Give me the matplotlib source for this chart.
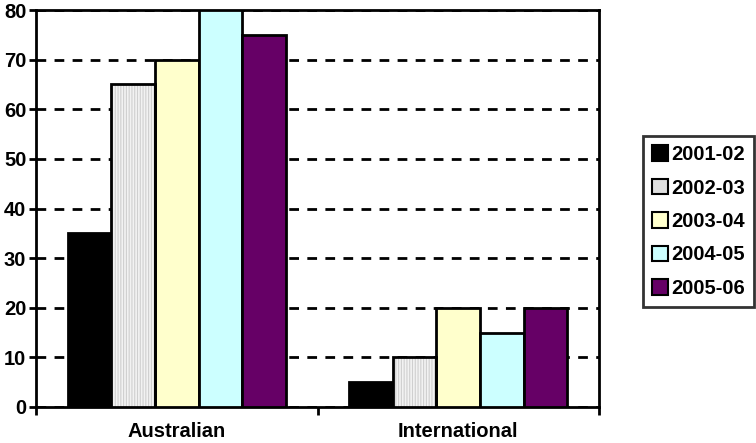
import matplotlib
matplotlib.use("Agg")
import matplotlib.pyplot as plt
from matplotlib.patches import Patch
import numpy as np

categories = ["Australian", "International"]
years = ["2001-02", "2002-03", "2003-04", "2004-05", "2005-06"]
values = {
    "2001-02": [35, 5],
    "2002-03": [65, 10],
    "2003-04": [70, 20],
    "2004-05": [80, 15],
    "2005-06": [75, 20],
}
colors = ["#000000", "#f2f2f2", "#ffffcc", "#ccffff", "#660066"]
y_ticks = [0, 10, 20, 30, 40, 50, 60, 70, 80]

plt.rcParams["font.family"] = ["Liberation Sans", "DejaVu Sans"]
plt.rcParams["font.weight"] = "bold"
plt.rcParams["hatch.linewidth"] = 0.8

FS = 14.5

fig = plt.figure(figsize=(7.56, 4.43), dpi=100)
ax = fig.add_axes([36 / 756, 36 / 443, (599 - 36) / 756, (407 - 10) / 443])

x = np.arange(len(categories))
group_w = 0.775
bw = group_w / len(years)

for i, (yr, col) in enumerate(zip(years, colors)):
    pos = x - group_w / 2 + bw * (i + 0.5)
    vals = values[yr]
    if i == 1:
        ax.bar(pos, vals, bw, color=col, edgecolor="#cfcfcf", hatch="||||||",
               linewidth=0, zorder=3)
        ax.bar(pos, vals, bw, fill=False, edgecolor="black", linewidth=2, zorder=4)
    else:
        ax.bar(pos, vals, bw, color=col, edgecolor="black", linewidth=2, zorder=3)

ax.set_xlim(-0.5, 1.5)
ax.set_ylim(0, 80)
ax.set_yticks(y_ticks)
ax.set_yticklabels([str(t) for t in y_ticks], fontsize=FS, fontweight="bold")
ax.set_xticks(x)
ax.set_xticklabels(categories, fontsize=FS, fontweight="bold")
ax.tick_params(axis="x", which="major", length=0, pad=11)
ax.set_xticks([-0.5, 0.5, 1.5], minor=True)
ax.tick_params(axis="x", which="minor", length=6, width=2, direction="out")
ax.tick_params(axis="y", length=5, width=2, direction="out", pad=2)

ax.yaxis.grid(True, color="black", linestyle=(0, (3.5, 3)), linewidth=2, zorder=0)
ax.set_axisbelow(True)
for s in ax.spines.values():
    s.set_linewidth(2)
    s.set_color("black")

legend_fill = list(colors)
legend_fill[1] = "#dedede"
handles = [Patch(facecolor=c, edgecolor="black", linewidth=1.5) for c in legend_fill]
leg = fig.legend(handles, years, loc="center left",
                 bbox_to_anchor=(643 / 756, (443 - 221.5) / 443),
                 prop={"size": FS, "weight": "bold"}, frameon=True, fancybox=False,
                 handlelength=0.8, handleheight=0.8, handletextpad=0.15,
                 labelspacing=0.72, borderpad=0.45, borderaxespad=0)
leg.get_frame().set_edgecolor("black")
leg.get_frame().set_linewidth(2)

fig.savefig("out.png", dpi=100)
